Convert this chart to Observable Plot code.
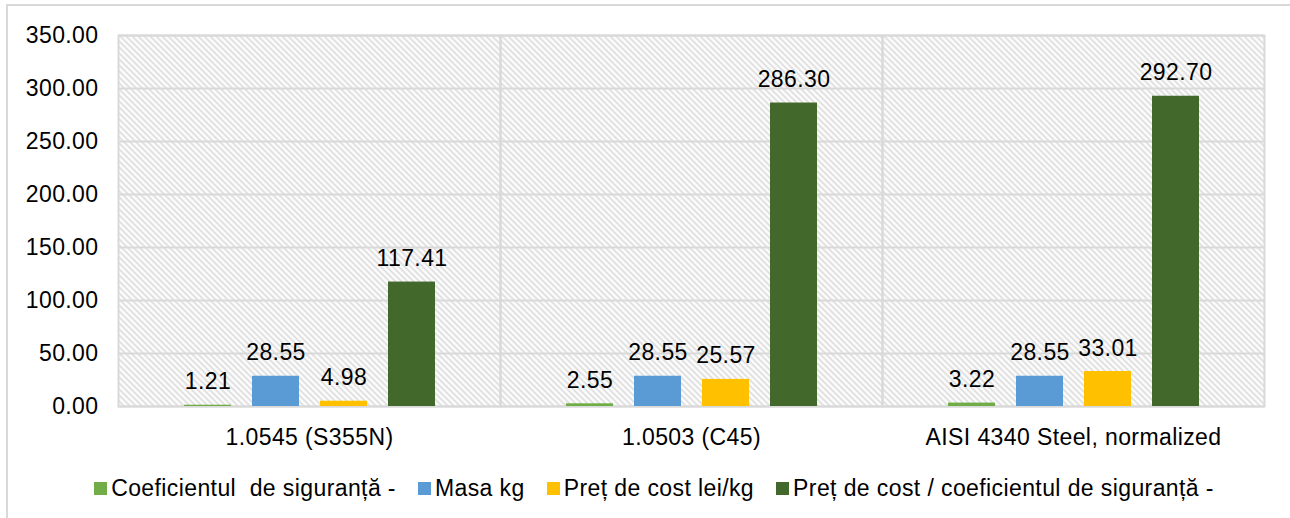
<!DOCTYPE html>
<html>
<head>
<meta charset="utf-8">
<script src="https://cdn.jsdelivr.net/npm/d3@7"></script>
<script src="https://cdn.jsdelivr.net/npm/@observablehq/plot@0.6"></script>
<style>
  html, body { margin: 0; padding: 0; background: #fff; overflow: hidden; width: 1290px; height: 518px; }
  #frame { position: absolute; left: 6px; top: 4px; width: 1300px; height: 530px; border: 2px solid #d9d9d9; box-sizing: border-box; }
  #chart { position: absolute; left: 0; top: 0; }
  #legend { position: absolute; left: 6px; width: 1296px; top: 474px; display: flex; justify-content: center;
            font-family: "Liberation Sans", Arial, sans-serif; font-size: 23px; letter-spacing: 0.4px; color: #000; line-height: 28px; white-space: pre; }
  .item { display: flex; align-items: center; margin: 0 11px; }
  .sw { width: 13px; height: 13px; margin-right: 4px; }
</style>
</head>
<body>
<div id="frame"></div>
<div id="chart"></div>
<div id="legend"></div>
<script>
const categories = ["1.0545 (S355N)", "1.0503 (C45)", "AISI 4340 Steel, normalized"];
const series = ["Coeficientul  de siguranță -", "Masa kg", "Preț de cost lei/kg", "Preț de cost / coeficientul de siguranță -"];
const coeficient = [1.21, 2.55, 3.22];
const masa = [28.55, 28.55, 28.55];
const pret = [4.98, 25.57, 33.01];
const raport = [117.41, 286.30, 292.70];
const colors = ["#70AD47", "#5B9BD5", "#FFC000", "#43682B"];
const yTicks = [0, 50, 100, 150, 200, 250, 300, 350];

const seriesValues = [coeficient, masa, pret, raport];
const data = [];
categories.forEach((c, i) => {
  series.forEach((s, j) => data.push({cat: c, series: s, value: seriesValues[j][i]}));
});

const fmt = d3.format(".2f");

const chart = Plot.plot({
  width: 1290,
  height: 460,
  marginTop: 35,
  marginBottom: 54,
  marginLeft: 118,
  marginRight: 26,
  style: {fontFamily: "'Liberation Sans', Arial, sans-serif", fontSize: "23px", letterSpacing: "0.4px", color: "#000", background: "transparent"},
  fx: {domain: categories, padding: 0, label: null, axis: "bottom", tickSize: 0, tickPadding: 22},
  x: {domain: series, paddingInner: 0.31, paddingOuter: 0.94, axis: null},
  y: {domain: [0, 350], ticks: yTicks, tickFormat: fmt, tickSize: 0, tickPadding: 20, label: null},
  color: {domain: series, range: colors},
  marks: [
    Plot.frame({fill: "url(#hatch)", stroke: "none"}),
    Plot.gridY(yTicks, {stroke: "#d9d9d9", strokeWidth: 2, strokeOpacity: 1}),
    Plot.frame({stroke: "#d9d9d9", strokeWidth: 2}),
    Plot.barY(data, {fx: "cat", x: "series", y: "value", fill: "series"}),
    Plot.text(data, {fx: "cat", x: "series", y: "value", text: d => fmt(d.value), lineAnchor: "bottom", dy: -16, fontSize: 23, fill: "#000"})
  ]
});

const defs = d3.select(chart).insert("defs", ":first-child");
const pat = defs.append("pattern").attr("id", "hatch").attr("patternUnits", "userSpaceOnUse").attr("width", 6).attr("height", 6);
pat.append("rect").attr("width", 6).attr("height", 6).attr("fill", "#fff");
pat.append("path").attr("d", "M0,0 L6,6 M-1,5 L1,7 M5,-1 L7,1").attr("stroke", "#d9d9d9").attr("stroke-width", 1.6);

document.getElementById("chart").appendChild(chart);

const legend = d3.select("#legend");
series.forEach((s, j) => {
  const it = legend.append("div").attr("class", "item");
  it.append("div").attr("class", "sw").style("background", colors[j]);
  it.append("span").text(s);
});
</script>
</body>
</html>
